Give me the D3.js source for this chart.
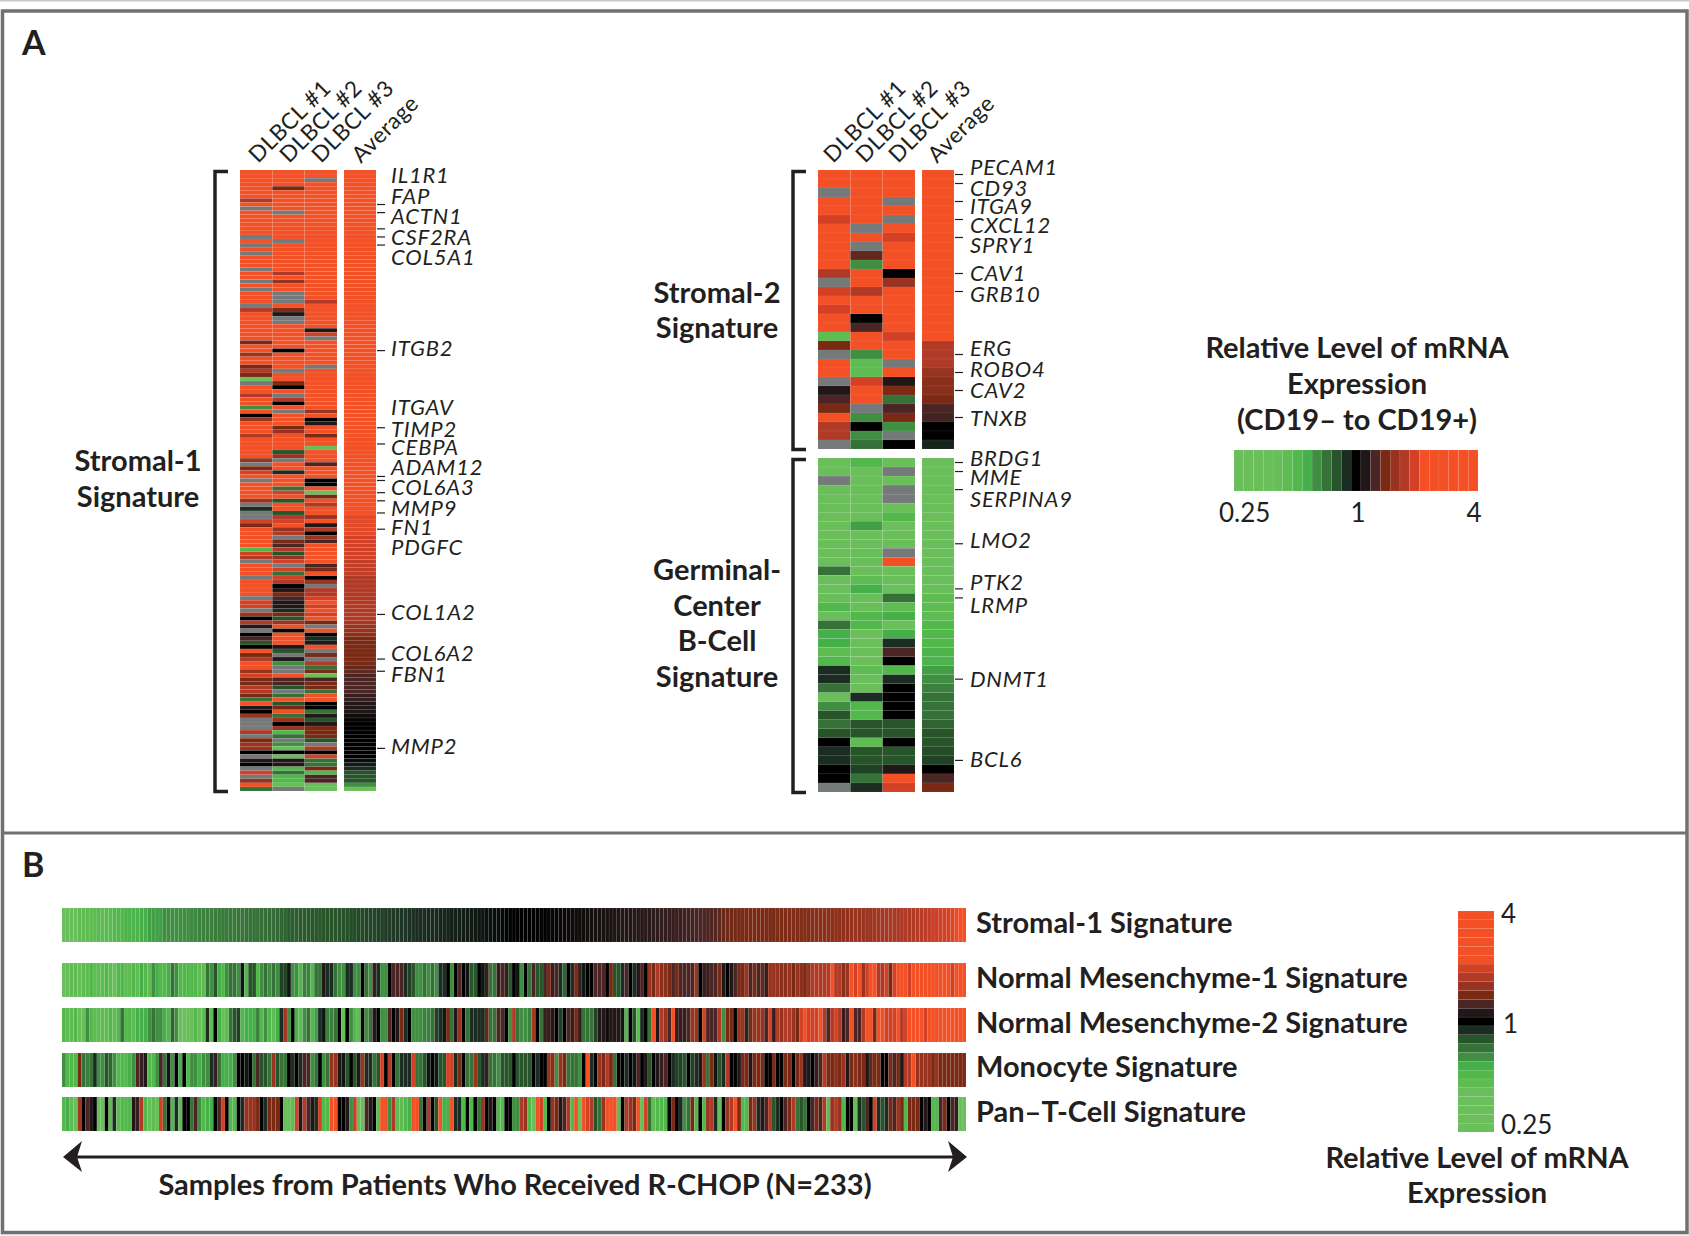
<!DOCTYPE html>
<html>
<head>
<meta charset="utf-8">
<script src="https://cdn.jsdelivr.net/npm/d3@7"></script>
<style>
  html, body { margin: 0; padding: 0; background: #fff; }
  svg { display: block; }
  text { font-family: Lato, "Open Sans", sans-serif; fill: #231f20; }
  .bold { font-weight: 700; font-size: 29px; }
  .gene { font-style: italic; font-size: 22px; letter-spacing: .8px; }
  .head { font-size: 22.5px; letter-spacing: .5px; }
  .num { font-size: 26px; }
</style>
</head>
<body>
<script>
let width = 1689;
let height = 1236;

// levels run from -12 (0.25) through 0 (1) to 12 (4), n = no data
const n = null;

let legendLevels = [-12,-11,-10,-9,-8,-7,-6,-5,-4,-3,-2,-1,0,1,2,3,4,5,6,7,8,9,10,11,12];
let levelColors = ["#6abf5b","#6abf5b","#6abf5b","#69bf5b","#68bf5a","#5fbc53","#52b84c","#45b04a",
                   "#3f8e41","#367238","#275429","#1b2d23","#000000","#221718","#4b2524","#7a2a14",
                   "#97331f","#b13a27","#d24126","#f35026","#f35026","#f35026","#f35026","#f35026","#f35026"];

let columnNames = ["DLBCL #1", "DLBCL #2", "DLBCL #3"];

// Stromal-1 heat map
let s1Col1 = [
  10,10,10,10,10,10,10,5,10,n,
  10,10,10,10,10,10,n,10,n,10,
  n,10,10,10,n,10,10,n,10,n,
  10,10,10,n,5,10,10,10,10,10,
  10,10,3,10,10,4,10,10,3,5,
  3,-12,n,10,10,5,10,10,-4,10,
  0,4,10,10,10,5,10,10,10,10,
  10,4,n,3,6,10,n,10,10,10,
  10,4,n,-1,n,n,6,3,10,10,
  10,10,10,-6,6,5,n,10,10,10,
  n,10,10,10,10,n,6,6,n,4,
  0,5,1,n,0,2,-2,0,10,3,
  5,7,7,4,6,3,3,5,5,3,
  -3,10,1,0,4,n,n,n,5,n,
  3,4,4,0,n,1,0,n,6,n,
  4,10,-3];
let s1Col2 = [
  10,10,10,10,3,10,10,10,10,10,
  n,10,10,10,10,10,10,n,10,10,
  10,10,10,10,10,5,10,4,10,10,
  n,n,n,10,3,1,n,n,10,10,
  10,10,10,10,0,10,10,10,10,n,
  10,10,3,0,10,n,5,0,10,n,
  10,10,10,3,4,10,10,9,10,-2,
  4,n,10,10,-1,10,10,10,-3,6,
  10,-2,10,10,-2,5,6,10,4,5,
  n,3,2,5,-2,4,6,n,6,-3,
  6,5,0,1,3,2,1,1,-1,3,
  -2,4,10,0,10,10,10,1,-2,n,
  1,-4,n,n,10,2,2,-2,n,-3,
  10,-2,3,10,-3,4,0,4,-6,-3,
  n,-4,-8,0,-8,1,1,-6,-3,-6,
  -6,-8,n];
let s1Col3 = [
  10,10,n,10,10,10,10,10,10,10,
  10,10,10,10,10,10,10,10,10,10,
  10,10,10,10,10,10,10,10,10,10,
  10,10,5,10,10,10,10,10,10,1,
  6,n,10,10,10,10,10,10,n,10,
  10,10,10,10,10,10,10,10,10,4,
  10,0,1,10,10,3,10,10,-8,10,
  10,10,2,10,10,10,0,0,10,-9,
  3,10,5,10,10,4,10,1,5,0,
  4,2,10,10,10,10,10,2,3,7,
  0,4,n,5,5,6,10,6,10,6,
  10,3,n,10,0,-1,1,10,n,3,
  n,5,-3,3,-9,2,3,3,-3,10,
  10,0,0,-3,1,-2,1,3,3,3,
  -2,n,5,0,6,-3,-3,3,-6,2,
  2,-9,-9];
let s1Avg = [
  10,10,10,10,10,10,10,10,10,10,
  10,10,10,10,10,10,10,10,10,10,
  10,10,10,10,10,10,10,10,10,10,
  10,10,10,10,10,10,10,10,10,10,
  10,10,10,10,10,10,10,10,10,10,
  10,10,10,10,10,10,10,10,10,10,
  10,10,10,10,10,10,10,10,10,10,
  9,9,9,9,9,9,8,8,8,8,
  7,7,7,7,7,6.5,6.5,6.5,6.5,6.5,
  6,6,6,6,6,6,5.5,5.5,5.5,5.5,
  5,5,5,5,5,5,5,5,5,5,
  5,4.5,4,4,3.5,3,3,3,3,3,
  3,3,2.5,2.5,2,2,2,2,2,1.5,
  1.5,1,1,1,.5,.3,0,0,0,0,
  0,0,0,0,0,-.3,-.6,-1,-2,-2,
  -2,-4,-11];
let s1Genes = ["IL1R1","FAP","ACTN1","CSF2RA","COL5A1","ITGB2","ITGAV","TIMP2","CEBPA","ADAM12",
               "COL6A3","MMP9","FN1","PDGFC","COL1A2","COL6A2","FBN1","MMP2"];
let s1GeneRows = [8,10,14,16,18,44,63,67,75,76,79,81,84,88,109,120,123,142];
let s1GeneBaselines = [183,204,224,245,265,356,415,437,455,475,495,516,535,555,620,661,682,754];

// Stromal-2 heat map
let s2Col1 = [10,10,n,10,10,6,10,10,10,10,10,5,n,6,10,6,9,9,-7,3,n,10,10,n,1,2,3,10,5,5,n];
let s2Col2 = [10,10,10,10,10,10,n,10,n,2.5,-4,10,10,5,8,10,0,2,10,7,-4,-7,-7,6,8,9,n,-4,0,-4,-3];
let s2Col3 = [10,10,10,n,10,n,10,6,10,10,10,0,4,10,10,10,10,9,6,7,9,n,10,1,3,-3,2,3,-4,n,0];
let s2Avg = [10,10,10,10,10,10,10,10,10,10,10,10,10,10,9,9,7,7,7,5,5,5,4,3.5,3.5,3,2,1.8,0,0,-.8];
let s2Genes = ["PECAM1","CD93","ITGA9","CXCL12","SPRY1","CAV1","GRB10","ERG","ROBO4","CAV2","TNXB"];
let s2GeneRows = [0,1,3,5,7,11,13,20,22,24,27];
let s2GeneBaselines = [175,196,214,233,253,281,302,356,377,398,426];

// germinal-center B-cell heat map
let gcCol1 = [-10,-10,n,-10,-10,-10,-10,-10,-10,-10,-10,-10,-3,-10,-9,-8,-6,-9,-3,-5,-5,-7,-6,-1,-1,-3,-10,-4,-2,-3,-2,0,-1,-1,0,0,n];
let gcCol2 = [-6,-10,-10,-10,-10,-10,-10,-4.5,-10,-10,-8,-8,-10,-7,-5,-8,-8,-6,-6,-10,-10,-10,-10,-7,-9,-10,-1,-6,-6,-2,-2,-7,-2,-2,-1.5,-3,-1];
let gcCol3 = [-10,n,-10,n,n,-10,-6,-10,-10,-10,n,10,-10,-8,-9,-3,-7,-5,-10,-5,-1,2,0,-6,-1,0,0,0,0,-2,-2,0,-2,-2,1,10,6];
let gcAvg = [-10,-10,-10,-10,-10,-10,-10,-10,-10,-10,-10,-10,-9,-8,-8,-7,-7,-7,-6,-6,-6,-5.5,-5.5,-4.5,-4,-3.5,-3,-3,-3,-2.5,-2,-2,-1.8,-1.5,0,2,3];
let gcGenes = ["BRDG1","MME","SERPINA9","LMO2","PTK2","LRMP","DNMT1","BCL6"];
let gcGeneRows = [0,1,3,9,14,15,24,33];
let gcGeneBaselines = [466,485,507,548,590,613,687,767];

// panel B, one value per patient sample
let sampleStromal = [
  -9,-8,-8,-8,-7,-7,-7,-7,-7,-6.5,
  -7,-6.5,-6.5,-6,-6,-6,-5.5,-5.5,-5.5,-5.5,
  -5,-5,-4.5,-4.5,-4.5,-4.5,-4,-4,-4,-4,
  -4,-4,-4,-3.8,-3.8,-3.6,-3.6,-3.5,-3.5,-3.4,
  -3.4,-3.3,-3.3,-3.2,-3.2,-3.1,-3.1,-3,-3,-3,
  -3,-2.9,-2.9,-2.8,-2.8,-2.7,-2.6,-2.5,-2.3,-2.3,
  -2.3,-2.2,-2.2,-2.2,-2.1,-2.1,-2.1,-2,-2,-2,
  -2,-2,-1.9,-1.9,-1.8,-1.8,-1.7,-1.7,-1.6,-1.6,
  -1.6,-1.5,-1.5,-1.4,-1.4,-1.3,-1.3,-1.2,-1.2,-1.1,
  -1.1,-1,-1,-1,-.9,-.9,-.9,-.8,-.8,-.8,
  -.7,-.7,-.7,-.6,-.6,-.6,-.5,-.5,-.5,-.4,
  -.4,-.3,-.3,-.2,-.1,0,0,0,0,0,
  0,0,.1,.1,.1,.2,.2,.2,.3,.3,
  .4,.4,.5,.5,.5,.6,.6,.7,.7,.7,
  .8,.8,.9,.9,1,1,1,1.1,1.1,1.1,
  1.2,1.2,1.3,1.3,1.4,1.4,1.5,1.5,1.6,1.6,
  1.7,1.7,1.8,1.9,2,2,2,2.1,2.2,2.4,
  2.6,2.8,2.8,2.9,2.9,3,3,3,3,3,
  3,3,3,3,3.1,3.1,3.1,3.2,3.2,3.2,
  3.2,3.3,3.3,3.4,3.4,3.5,3.5,3.6,3.6,3.7,
  3.7,3.8,3.8,3.9,4,4,4.1,4.1,4.2,4.3,
  4.4,4.5,4.6,4.7,4.7,4.8,4.9,5,5,5,
  5.1,5.2,5.3,5.5,5.7,5.8,6,6,6,6.3,
  6.7,7,8];
let sampleMes1 = [
  -9,-8,-7,-7,-8,-7,-7,-6,-7,-7,
  -7,-6,-7,-8,-6,-6,-7,-7,-6,-7,
  -5,-6,-7,-4,-5,-6,-6,-5,-3,-4,
  -6,-6,-6,-6,-6,-7,-7,-3,-4,-2,
  -5,-6,-4,-3,-3,-4,-.5,-6,-2,-2,
  -6,-4,-3,-4,-3,-4,-1.5,-1.5,-.5,-4,
  -4,-6,-3.5,-3.5,-6,-3,-3,1,-1,-1,
  -3,-4,-4,-1,-1,-4,-4,0,-3,-4,
  1.5,-1,-4,-4,0,2,2,2,-1,-1.5,
  -2,-4,-4,-3,-4,-3,-4,-1,-1,0,
  -4,0,2,0,-.5,-2,-2,0,-.5,1.5,
  -3,-3,1.5,2,1.5,-2,0,-.5,-4,0,
  -3,2,-2,-2,2,3,1.5,2,-1,-2.5,
  0,-1,3,1.5,-.5,0,0,2,2,2,
  0,3,-2,-2,-1,2,0,-1,1,2,
  0,4,3,5,3.5,3.5,3,2,3,2,
  2,2,2,4,0,1.5,1.5,2,2,3,
  1,0,1,2,3,3,4,2,3,2,
  2.5,1.5,4,4,4,3.5,3.5,4,3,4,
  3.5,3,4,5,5,5,5,5,8,5,
  5,3.5,4,8,6,8,4,6,8,8,
  5,5,6,3,6,8,8,7,6,8,
  7,8,8,8,8,8,8,8,8,6,
  8,8,8];
let sampleMes2 = [
  -6,-7,-7,-6,-8,-8,-4,-6,-7,-7,
  -7,-7,-6,-7,-6,-3,-6,-6,-7,-5,
  -5,-5,-4,-3,-4,-4,-5,-6,-2.5,-4,
  -9,-9,-9,-8,-6,-8,-7,-1,-7,0,
  -5,-8,-7,-3,-2,-1.5,-6,-5,-5,-5,
  -3.5,-6,-4,-6,-7,-5,-1,4.5,-4,0,
  -5,-7,-4,-3,-6,-4.5,-1,-.5,-3.5,-3.5,
  -3,0,-9,0,-4,-6,-7,.3,-4,-3,
  1,0,-4,-4,2,0,1,3,-1,0,
  -4,-4,-4,-3.5,-3.5,-3,-1.5,-1,-.5,3,
  -3,1,4,0,-3,-1,-1,-1,-1,2.5,
  -3,-3,2,2,0,-4,5,-3,-4,-4,
  -3.5,4.5,0,-3,1.5,1.5,1,0,-1.5,0,
  2,1.5,3,1.5,-3,-3,-3,-1.5,1,1,
  .5,1,1,1,-.5,-6,0,-2,-7,-1,
  0,-3,8,1,5,4,2,8,1.5,1.5,
  1.5,2,4,4,0,6,2,2,2,5,
  -4,3,3,0,4,4,-1,3,4,4,
  4,2,6,1.5,5,4,5,5,4,3,
  6,7,6,6,6,7,5,2,5,6,
  5,1.5,2,7,2,2,5,8,8,3,
  7,7,6,6,6,7,5,6,7,7,
  8,7,6,7,7,8,8,7,7,8,
  7,8,8];
let sampleMono = [
  -4,-6,-6,-6,3,-3,-3.5,-3,-1,-4,
  -4,-2,-2.5,-4,-6,-6,-6,-5,-4,2,
  1.5,1,-6,-6,-4,2,-3,-.5,-4,0,
  -5,0,-6,-4,-4,-5,-4,-4,-1,1.5,
  -3,-5,-5,-5,-4,0,0,-.5,0,-3,
  2,-2,-2,-3,4,-2,-3,-3,0,-1,
  0,-1,2,2,-4,-3,0,-4,-3,4,
  4,1,-.5,-2,0,-2,1,4,-1,-1,
  -3,-2,6,0,5,0,-3,-1,-1,-1,
  6,-3,-3,-2,-.5,0,-.5,-2,-2,6,
  6,-1,3,0,-3,-3,4,-2,-1,1.5,
  -3,-3,-4,-2,-2,-2,0,-2,-2,-2,
  -2,0,-1,0,0,4,3.5,-4,4,3,
  -3,-3,-3,-4,0,8,-1,0,4,3,
  5,3,-3,0,0,-1,0,-.5,2,0,
  1,-2,0,1,1.5,2,0,-1,-1.5,-1.5,
  -2,0,-1.5,-1,1,4,-3,3,-.5,-2,
  -1,5,0,0,1,3,3,1,3,3,
  3,0,0,3,0,0,3,3,0,3,
  4,1,1,0,1.5,2,5,3,3,3.5,
  3,4,1,3,3.5,3,3,1,2.5,3,
  3,0,0,3,2,3,1,5,5,7,
  4,4,4,4,3,4,3,3,3,3,
  3,3,3];
let samplePanT = [
  -6,-5,-7,-8,4.5,0,2,1,0,-8,
  -8,0,-7,-1,-7,-6,-6,-6,1,1.5,
  5,-6,-8,-7,-8,6,-3,0,-6,-1,
  -7,0,0,-3,2,-4,-6,-5,-5,0,
  2,6,0,-6,-6,0,-1,4,4,4,
  3,0,-1,3,3,3,0,-8,-8,-7,
  6,1,5,2,1,-1,6,-6,-6,8,
  8,0,0,1,-4,6,-8,-8,2,1,
  0,-7,10,7,-4,5,-7,-7,-6,-5,
  8,7,-3,0,5,0,-2,7,-5,-5,
  7,-1,-1,-6,0,-6,0,-3,4,0,
  1,0,-6,-6,0,0,-4,-4,5,4,
  -6,-8,7,6,-6,0,4,3,1,2,
  5,-6,7,-8,7,6,5,-2,-3,4,
  8,8,8,-7,0,5,4,3,8,-8,
  6,-3,-7,-6,-6,-6,0,3,0,-1,
  -4,-3,3,-6,0,-6,4,5,-1,-8,
  0,4,5,7,3,-6,-6,3,4,-1,
  1,2,5,-2,-1,0,2,3,5,-3,
  -2,-3,0,2,3,2,5,-7,4,5,
  4,-6,0,0,-8,-1,-2,2,0,6,
  -1,-2,-1,3,2,4,3,-6,3,3,
  3,0,1,0,-6,-6,2,3,0,2,
  1.5,-9,-10];

let signatureNames = ["Stromal-1 Signature","Normal Mesenchyme-1 Signature","Normal Mesenchyme-2 Signature",
                      "Monocyte Signature","Pan\u2013T-Cell Signature"];

// color scale

let grey = "#76797a";
let levelScale = d3.scaleLinear().domain(legendLevels).range(levelColors).clamp(true);
function colorOf(v) {
    return v === null ? grey : levelScale(v);
}

// svg canvas

let svg = d3.select("body")
    .append("svg")
    .attr("width", width)
    .attr("height", height);

svg.append("rect").attr("width", width).attr("height", height).attr("fill", "#fff");
svg.append("rect").attr("width", width).attr("height", 1.5).attr("fill", "#c9c9c9");
svg.append("rect").attr("y", 1234).attr("width", width).attr("height", 2).attr("fill", "#f4f2ec");

// frame

let frame = svg.append("g")
    .attr("fill", "none")
    .attr("stroke", "#6f7172")
    .attr("stroke-width", 3.5);
frame.append("rect").attr("x", 2.5).attr("y", 11).attr("width", 1684.5).attr("height", 1221.5);
frame.append("line").attr("x1", 2.5).attr("x2", 1687).attr("y1", 833).attr("y2", 833).attr("stroke-width", 3);

function label(x, y, txt, cls, anchor) {
    return svg.append("text")
        .attr("x", x)
        .attr("y", y)
        .attr("class", cls)
        .attr("text-anchor", anchor || "start")
        .text(txt);
}

label(22, 55, "A", "bold").style("font-size", "34px");
label(22, 877, "B", "bold").style("font-size", "34px");

// draws one block of cells, rows of values stacked from top to bottom

function cells(parent, values, x, y, w) {
    parent.append("g").selectAll("rect")
        .data(values)
        .enter()
        .append("rect")
        .attr("x", x)
        .attr("y", function(d, i) { return y(i); })
        .attr("width", w)
        .attr("height", y.bandwidth())
        .attr("fill", colorOf)
        .attr("stroke", "#fff")
        .attr("stroke-width", 0.4)
        .attr("stroke-opacity", 0.14);
}

function heatmap(o) {
    let g = svg.append("g");
    let y = d3.scaleBand().domain(d3.range(o.cols[0].length)).range([o.top, o.bottom]);
    let x = d3.scaleBand().domain(d3.range(3)).range([o.left, o.left + o.colsWidth]);

    o.cols.forEach(function(col, i) {
        cells(g, col, x(i), y, x.bandwidth());
    });
    cells(g, o.avg, o.avgLeft, y, o.avgWidth);

    // gene ticks
    let axis = d3.axisRight(y).tickValues(o.geneRows).tickSize(8).tickFormat("");
    let a = svg.append("g")
        .attr("transform", "translate(" + (o.avgLeft + o.avgWidth + 1) + ",0)")
        .call(axis);
    a.select(".domain").remove();
    a.selectAll("line").attr("stroke", "#231f20").attr("stroke-width", 1.2);

    o.genes.forEach(function(name, i) {
        label(o.geneX, o.geneBaselines[i], name, "gene");
    });

    // bracket
    svg.append("path")
        .attr("d", "M" + (o.left - 12) + "," + (o.top + 1.5) + "H" + (o.left - 25) + "V" + (o.bottom + 0.5) + "H" + (o.left - 12))
        .attr("fill", "none")
        .attr("stroke", "#231f20")
        .attr("stroke-width", 3.5);
}

function headers(xs, y) {
    columnNames.concat("Average").forEach(function(name, i) {
        svg.append("text")
            .attr("class", "head")
            .attr("transform", "translate(" + xs[i] + "," + y + ") rotate(-45)")
            .text(name);
    });
}

heatmap({ cols: [s1Col1, s1Col2, s1Col3], avg: s1Avg, top: 170, bottom: 791, left: 240, colsWidth: 97,
          avgLeft: 344, avgWidth: 32, genes: s1Genes, geneRows: s1GeneRows, geneBaselines: s1GeneBaselines, geneX: 391 });
heatmap({ cols: [s2Col1, s2Col2, s2Col3], avg: s2Avg, top: 170, bottom: 449, left: 818, colsWidth: 97,
          avgLeft: 922, avgWidth: 32, genes: s2Genes, geneRows: s2GeneRows, geneBaselines: s2GeneBaselines, geneX: 970 });
heatmap({ cols: [gcCol1, gcCol2, gcCol3], avg: gcAvg, top: 458, bottom: 792, left: 818, colsWidth: 97,
          avgLeft: 922, avgWidth: 32, genes: gcGenes, geneRows: gcGeneRows, geneBaselines: gcGeneBaselines, geneX: 970 });

headers([258, 289, 321, 361], 164);
headers([833, 865, 898, 937], 164);

label(138, 471, "Stromal-1", "bold", "middle");
label(138, 507, "Signature", "bold", "middle");
label(717, 303, "Stromal-2", "bold", "middle");
label(717, 338, "Signature", "bold", "middle");
label(717, 580, "Germinal-", "bold", "middle");
label(717, 616, "Center", "bold", "middle");
label(717, 651, "B-Cell", "bold", "middle");
label(717, 687, "Signature", "bold", "middle");

// legend of panel A

let legendA = d3.scaleBand().domain(legendLevels).range([1234, 1478]);
svg.append("g").selectAll("rect")
    .data(legendLevels)
    .enter()
    .append("rect")
    .attr("x", function(d) { return legendA(d); })
    .attr("y", 450)
    .attr("width", legendA.bandwidth())
    .attr("height", 41)
    .attr("fill", colorOf)
    .attr("stroke", "#fff")
    .attr("stroke-width", 0.4)
    .attr("stroke-opacity", 0.14);

label(1357, 358, "Relative Level of mRNA", "bold", "middle");
label(1357, 394, "Expression", "bold", "middle");
label(1357, 430, "(CD19\u2013 to CD19+)", "bold", "middle");
label(1219, 522, "0.25", "num");
label(1358, 522, "1", "num", "middle");
label(1474, 522, "4", "num", "middle");

// panel B strips

let sampleX = d3.scaleBand().domain(d3.range(sampleStromal.length)).range([62, 966]);
let sampleRows = [sampleStromal, sampleMes1, sampleMes2, sampleMono, samplePanT];
let stripTop = [908, 963, 1008, 1053, 1097];
let stripHeight = [34, 34, 34, 34, 34];
let stripBaseline = [933, 988, 1033, 1077, 1122];

sampleRows.forEach(function(values, k) {
    svg.append("g").selectAll("rect")
        .data(values)
        .enter()
        .append("rect")
        .attr("x", function(d, i) { return sampleX(i); })
        .attr("y", stripTop[k])
        .attr("width", sampleX.bandwidth())
        .attr("height", stripHeight[k])
        .attr("fill", colorOf)
        .attr("stroke", "#fff")
        .attr("stroke-width", 0.4)
        .attr("stroke-opacity", 0.14);
    label(976, stripBaseline[k], signatureNames[k], "bold");
});

// double arrow

let arrow = svg.append("g").attr("fill", "#231f20");
arrow.append("line")
    .attr("x1", 72).attr("x2", 958).attr("y1", 1157).attr("y2", 1157)
    .attr("stroke", "#231f20").attr("stroke-width", 3);
arrow.append("path").attr("d", "M63,1157L82,1141L77,1157L82,1172Z");
arrow.append("path").attr("d", "M967,1157L948,1141L953,1157L948,1172Z");

label(515, 1195, "Samples from Patients Who Received R-CHOP (N=233)", "bold", "middle");

// legend of panel B

let legendB = d3.scaleBand().domain(legendLevels.slice().reverse()).range([911, 1132]);
svg.append("g").selectAll("rect")
    .data(legendLevels)
    .enter()
    .append("rect")
    .attr("x", 1458)
    .attr("y", function(d) { return legendB(d); })
    .attr("width", 36)
    .attr("height", legendB.bandwidth())
    .attr("fill", colorOf)
    .attr("stroke", "#fff")
    .attr("stroke-width", 0.4)
    .attr("stroke-opacity", 0.14);

label(1501, 923, "4", "num");
label(1503, 1033, "1", "num");
label(1501, 1134, "0.25", "num");
label(1477, 1168, "Relative Level of mRNA", "bold", "middle");
label(1477, 1203, "Expression", "bold", "middle");
</script>
</body>
</html>
